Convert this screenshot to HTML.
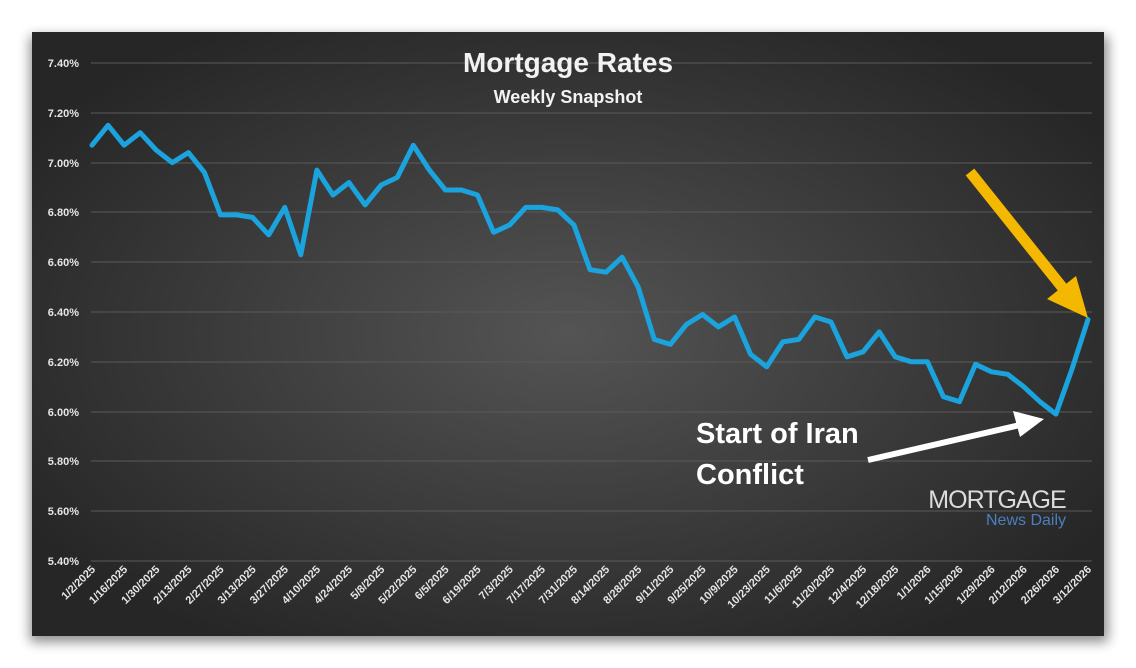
<!DOCTYPE html>
<html><head><meta charset="utf-8"><style>
html,body{margin:0;padding:0;background:#fff;}
svg{display:block;font-family:"Liberation Sans",sans-serif;}
</style></head><body>
<svg width="1136" height="668" viewBox="0 0 1136 668" xmlns="http://www.w3.org/2000/svg">
<defs>
<radialGradient id="bg" cx="50%" cy="50%" r="60%">
<stop offset="0" stop-color="#545454"/><stop offset="1" stop-color="#262626"/>
</radialGradient>
<filter id="sh" x="-5%" y="-5%" width="110%" height="115%"><feGaussianBlur stdDeviation="6"/></filter>
</defs>
<rect x="30" y="36" width="1078" height="606" fill="#000" opacity="0.45" filter="url(#sh)"/>
<rect x="32" y="32" width="1072" height="604" fill="url(#bg)"/>
<g stroke="#5a5a5a" stroke-width="1">
<line x1="91" x2="1092" y1="63" y2="63"/><line x1="91" x2="1092" y1="113" y2="113"/><line x1="91" x2="1092" y1="163" y2="163"/><line x1="91" x2="1092" y1="212" y2="212"/><line x1="91" x2="1092" y1="262" y2="262"/><line x1="91" x2="1092" y1="312" y2="312"/><line x1="91" x2="1092" y1="362" y2="362"/><line x1="91" x2="1092" y1="412" y2="412"/><line x1="91" x2="1092" y1="461" y2="461"/><line x1="91" x2="1092" y1="511" y2="511"/><line x1="91" x2="1092" y1="561" y2="561"/>
</g>
<g fill="#e6e6e6" font-size="11" font-weight="bold" text-anchor="end">
<text x="79" y="67">7.40%</text><text x="79" y="117">7.20%</text><text x="79" y="167">7.00%</text><text x="79" y="216">6.80%</text><text x="79" y="266">6.60%</text><text x="79" y="316">6.40%</text><text x="79" y="366">6.20%</text><text x="79" y="416">6.00%</text><text x="79" y="465">5.80%</text><text x="79" y="515">5.60%</text><text x="79" y="565">5.40%</text>
</g>
<text x="568" y="72" fill="#f2f2f2" font-size="28" font-weight="bold" text-anchor="middle">Mortgage Rates</text>
<text x="568" y="103" fill="#f2f2f2" font-size="18" font-weight="bold" text-anchor="middle">Weekly Snapshot</text>
<g fill="#e6e6e6" font-size="11" font-weight="bold" text-anchor="end">
<text transform="translate(96.0,570) rotate(-45)">1/2/2025</text>
<text transform="translate(128.1,570) rotate(-45)">1/16/2025</text>
<text transform="translate(160.3,570) rotate(-45)">1/30/2025</text>
<text transform="translate(192.4,570) rotate(-45)">2/13/2025</text>
<text transform="translate(224.5,570) rotate(-45)">2/27/2025</text>
<text transform="translate(256.6,570) rotate(-45)">3/13/2025</text>
<text transform="translate(288.8,570) rotate(-45)">3/27/2025</text>
<text transform="translate(320.9,570) rotate(-45)">4/10/2025</text>
<text transform="translate(353.0,570) rotate(-45)">4/24/2025</text>
<text transform="translate(385.2,570) rotate(-45)">5/8/2025</text>
<text transform="translate(417.3,570) rotate(-45)">5/22/2025</text>
<text transform="translate(449.4,570) rotate(-45)">6/5/2025</text>
<text transform="translate(481.5,570) rotate(-45)">6/19/2025</text>
<text transform="translate(513.7,570) rotate(-45)">7/3/2025</text>
<text transform="translate(545.8,570) rotate(-45)">7/17/2025</text>
<text transform="translate(577.9,570) rotate(-45)">7/31/2025</text>
<text transform="translate(610.1,570) rotate(-45)">8/14/2025</text>
<text transform="translate(642.2,570) rotate(-45)">8/28/2025</text>
<text transform="translate(674.3,570) rotate(-45)">9/11/2025</text>
<text transform="translate(706.5,570) rotate(-45)">9/25/2025</text>
<text transform="translate(738.6,570) rotate(-45)">10/9/2025</text>
<text transform="translate(770.7,570) rotate(-45)">10/23/2025</text>
<text transform="translate(802.8,570) rotate(-45)">11/6/2025</text>
<text transform="translate(835.0,570) rotate(-45)">11/20/2025</text>
<text transform="translate(867.1,570) rotate(-45)">12/4/2025</text>
<text transform="translate(899.2,570) rotate(-45)">12/18/2025</text>
<text transform="translate(931.4,570) rotate(-45)">1/1/2026</text>
<text transform="translate(963.5,570) rotate(-45)">1/15/2026</text>
<text transform="translate(995.6,570) rotate(-45)">1/29/2026</text>
<text transform="translate(1027.7,570) rotate(-45)">2/12/2026</text>
<text transform="translate(1059.9,570) rotate(-45)">2/26/2026</text>
<text transform="translate(1092.0,570) rotate(-45)">3/12/2026</text>
</g>
<polyline fill="none" stroke="#1aa3dc" stroke-width="5" stroke-linejoin="round" stroke-linecap="round" points="92.0,145.2 108.1,125.3 124.1,145.2 140.2,132.7 156.3,150.2 172.3,162.6 188.4,152.6 204.5,172.6 220.5,214.9 236.6,214.9 252.6,217.4 268.7,234.8 284.8,207.4 300.8,254.7 316.9,170.1 333.0,195.0 349.0,182.5 365.1,204.9 381.2,185.0 397.2,177.5 413.3,145.2 429.4,170.1 445.4,190.0 461.5,190.0 477.5,195.0 493.6,232.3 509.7,224.9 525.7,207.4 541.8,207.4 557.9,209.9 573.9,224.9 590.0,269.7 606.1,272.2 622.1,257.2 638.2,287.1 654.3,339.4 670.3,344.4 686.4,324.5 702.5,314.5 718.5,326.9 734.6,317.0 750.6,354.3 766.7,366.8 782.8,341.9 798.8,339.4 814.9,317.0 831.0,322.0 847.0,356.8 863.1,351.8 879.2,331.9 895.2,356.8 911.3,361.8 927.4,361.8 943.4,396.7 959.5,401.6 975.5,364.3 991.6,371.8 1007.7,374.3 1023.7,386.7 1039.8,401.6 1055.9,414.1 1071.9,369.3 1088.0,319.5"/>
<text x="696" y="443" fill="#fff" font-size="29" font-weight="bold">Start of Iran</text>
<text x="696" y="484" fill="#fff" font-size="29" font-weight="bold">Conflict</text>
<line x1="868" y1="460" x2="1020" y2="425" stroke="#fff" stroke-width="6"/>
<polygon points="1044,419 1013,411 1020,437" fill="#fff"/>
<line x1="970" y1="172" x2="1066" y2="292" stroke="#f5b800" stroke-width="11"/>
<polygon points="1088,318 1047,299 1076,276" fill="#f5b800"/>
<text x="997" y="508" fill="#dcdcdc" font-size="25" text-anchor="middle" letter-spacing="-1">MORTGAGE</text>
<text x="1066" y="525" fill="#4a7fc1" font-size="16" text-anchor="end">News Daily</text>
</svg>
</body></html>
